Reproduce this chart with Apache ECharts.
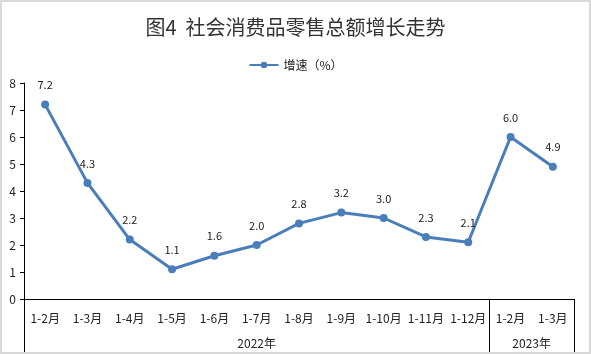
<!DOCTYPE html>
<html style="height: 100%">
<head>
	<meta charset="utf-8">
	<script src="https://cdn.jsdelivr.net/npm/echarts@6/dist/echarts.min.js"></script>
</head>
<body style="height: 100%; margin: 0">
	<div id="container" style="width: 591px; height: 354px; box-sizing: border-box; border: 2px solid #d9d9d9; background: #fff"></div>
	<script type="text/javascript">
		let months = ['1-2月', '1-3月', '1-4月', '1-5月', '1-6月', '1-7月', '1-8月', '1-9月', '1-10月', '1-11月', '1-12月', '1-2月', '1-3月'];
		let growth = [7.2, 4.3, 2.2, 1.1, 1.6, 2.0, 2.8, 3.2, 3.0, 2.3, 2.1, 6.0, 4.9];
		let years = ['2022年', '2023年'];
		// year groups: start index and number of months
		let yearStart = [0, 11];
		let yearCount = [11, 2];

		let font = '"Noto Sans CJK SC", "Noto Sans", sans-serif';
		let dom = document.getElementById('container');
		let myChart = echarts.init(dom);

		let yearBounds = yearStart.concat([months.length]);
		let yearCenters = yearStart.map((s, i) => s + yearCount[i] / 2);

		let option = {
			animation: false,
			textStyle: { fontFamily: font },
			title: {
				text: '图4  社会消费品零售总额增长走势',
				left: 'center',
				top: 10,
				textStyle: { fontSize: 20, fontWeight: 'normal', color: '#333', fontFamily: font }
			},
			legend: {
				top: 52,
				left: 'center',
				itemWidth: 29,
				itemHeight: 8,
				textStyle: { fontSize: 12, color: '#222' },
				data: ['增速（%）']
			},
			grid: { left: 22, right: 15, top: 81, bottom: 53, containLabel: false },
			xAxis: [
				{
					type: 'category',
					data: months,
					boundaryGap: true,
					axisLine: { lineStyle: { color: '#000' } },
					axisTick: { length: 29, interval: 0, lineStyle: { color: '#000' } },
					axisLabel: { interval: 0, margin: 13, fontSize: 12, color: '#222' }
				},
				{
					type: 'value',
					min: 0,
					max: months.length,
					position: 'bottom',
					axisLine: { show: false },
					splitLine: { show: false },
					axisTick: { show: true, length: 56, customValues: yearBounds, lineStyle: { color: '#000' } },
					axisLabel: {
						margin: 38,
						fontSize: 12,
						color: '#222',
						customValues: yearCenters,
						formatter: function (v) {
							let i = yearCenters.indexOf(v);
							return i >= 0 ? years[i] : '';
						}
					}
				}
			],
			yAxis: {
				type: 'value',
				min: 0,
				max: 8,
				interval: 1,
				axisLine: { show: true, lineStyle: { color: '#000' } },
				axisTick: { show: true, length: 4, lineStyle: { color: '#000' } },
				splitLine: { show: false },
				axisLabel: { fontSize: 12, color: '#222', margin: 8 }
			},
			series: [
				{
					name: '增速（%）',
					type: 'line',
					data: growth,
					symbol: 'circle',
					symbolSize: 8,
					lineStyle: { width: 3, color: '#4a7ebb' },
					itemStyle: { color: '#4a7ebb' },
					label: {
						show: true,
						position: 'top',
						distance: 10,
						fontSize: 11,
						color: '#222',
						formatter: function (p) { return p.value.toFixed(1); }
					}
				}
			]
		};

		myChart.setOption(option);
	</script>
</body>
</html>
